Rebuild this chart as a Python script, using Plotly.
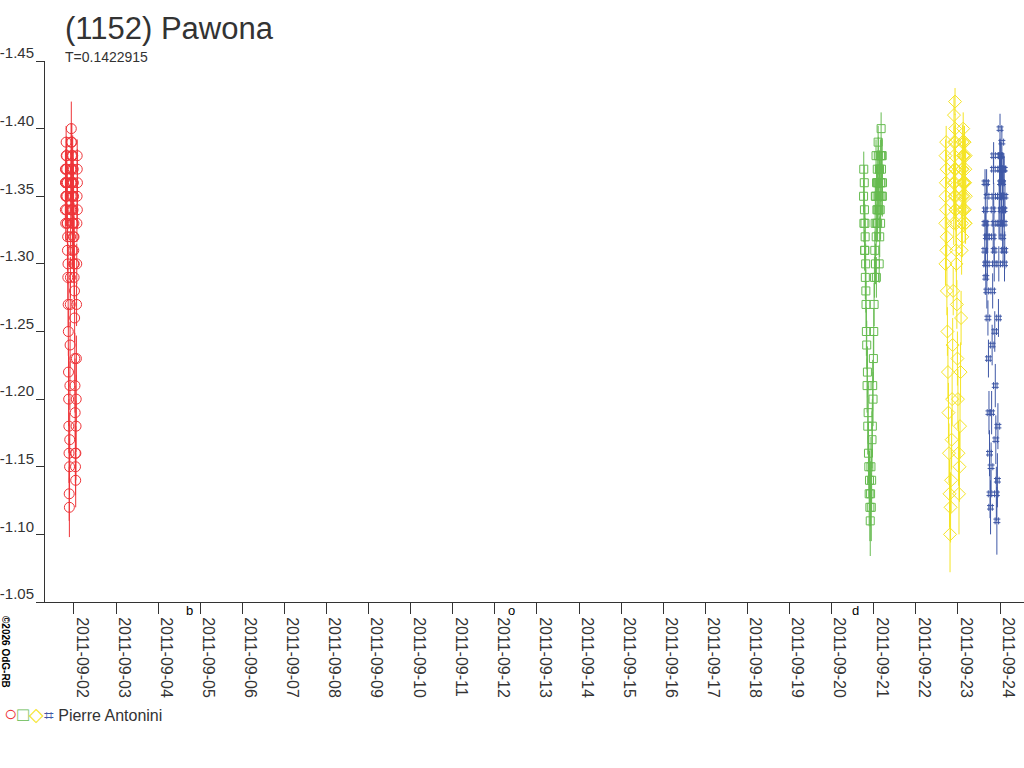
import pandas as pd
import plotly.graph_objects as go

# magnitudes, times as hours after each night's start
red_start = "2011-09-01 19:00"
red_hours = [0.1, 0.2, 0.3, 0.4, 0.5, 0.6, 0.7, 0.8, 0.9, 1.0,
             1.1, 1.2, 1.3, 1.4, 1.5, 1.6, 1.7, 1.8, 1.9, 2.0,
             2.1, 2.2, 2.3, 2.4, 2.5, 2.6, 2.7, 2.8, 2.9, 3.0,
             3.1, 3.2, 3.3, 3.4, 3.5, 3.6, 3.7, 3.8, 3.9, 4.0,
             4.1, 4.2, 4.3, 4.4, 4.5, 4.6, 4.7, 4.8, 4.9, 5.0,
             5.1, 5.2, 5.3, 5.4, 5.5, 5.6, 5.7, 5.8, 5.9, 6.0,
             6.1, 6.2, 6.3, 6.4, 6.5, 6.6, 6.7, 6.8, 6.9, 7.0,
             0.15, 0.45, 0.85, 1.25, 3.25, 3.45, 3.65, 3.85, 4.05, 4.25,
             4.45, 4.65, 4.85, 5.05, 6.85, 6.95, 0.25, 0.55, 3.55, 4.15]
red_mag = [-1.34, -1.36, -1.33, -1.37, -1.35, -1.38, -1.36, -1.34, -1.37, -1.35,
           -1.33, -1.36, -1.31, -1.32, -1.29, -1.30, -1.27, -1.25, -1.22, -1.20,
           -1.18, -1.16, -1.13, -1.12, -1.15, -1.17, -1.21, -1.24, -1.27, -1.29,
           -1.32, -1.34, -1.36, -1.35, -1.40, -1.38, -1.36, -1.39, -1.34, -1.37,
           -1.35, -1.33, -1.38, -1.36, -1.34, -1.37, -1.32, -1.35, -1.31, -1.33,
           -1.29, -1.30, -1.28, -1.26, -1.23, -1.21, -1.19, -1.16, -1.15, -1.14,
           -1.16, -1.18, -1.20, -1.23, -1.27, -1.30, -1.33, -1.35, -1.37, -1.36,
           -1.37, -1.35, -1.38, -1.33, -1.37, -1.39, -1.36, -1.34, -1.38, -1.35,
           -1.33, -1.36, -1.30, -1.32, -1.38, -1.34, -1.36, -1.39, -1.37, -1.31]
red_err = [0.012, 0.014, 0.013, 0.015, 0.012, 0.014, 0.013, 0.012, 0.015, 0.013,
           0.014, 0.012, 0.015, 0.014, 0.016, 0.015, 0.017, 0.018, 0.018, 0.020,
           0.020, 0.022, 0.020, 0.022, 0.021, 0.020, 0.018, 0.017, 0.016, 0.015,
           0.014, 0.013, 0.012, 0.014, 0.020, 0.013, 0.012, 0.014, 0.013, 0.012,
           0.014, 0.013, 0.015, 0.012, 0.014, 0.013, 0.015, 0.014, 0.016, 0.015,
           0.016, 0.015, 0.017, 0.018, 0.019, 0.020, 0.020, 0.022, 0.021, 0.020,
           0.020, 0.019, 0.018, 0.017, 0.016, 0.015, 0.014, 0.013, 0.015, 0.014,
           0.013, 0.012, 0.014, 0.013, 0.012, 0.014, 0.013, 0.012, 0.014, 0.013,
           0.012, 0.014, 0.013, 0.015, 0.012, 0.014, 0.013, 0.012, 0.015, 0.013]

green_start = "2011-09-20 18:00"
green_hours = [0.2, 0.4, 0.6, 0.8, 1.0, 1.2, 1.4, 1.6, 1.8, 2.0,
               2.2, 2.4, 2.6, 2.8, 3.0, 3.2, 3.4, 3.6, 3.8, 4.0,
               4.2, 4.4, 4.6, 4.8, 5.0, 5.2, 5.4, 5.6, 5.8, 6.0,
               6.2, 6.4, 6.6, 6.8, 7.0, 7.2, 7.4, 7.6, 7.8, 8.0,
               8.2, 8.4, 8.6, 8.8, 9.0, 9.2, 9.4, 9.6, 9.8, 10.0,
               10.2, 10.4, 10.6, 10.8, 11.0,
               0.3, 0.7, 1.1, 6.9, 7.3, 7.7, 8.1, 8.5, 8.9, 9.3,
               9.7, 10.1, 10.5, 10.9, 1.5, 0.9, 7.5, 8.3, 9.1, 9.9]
green_mag = [-1.35, -1.33, -1.36, -1.31, -1.33, -1.29, -1.30, -1.27, -1.25, -1.24,
             -1.21, -1.22, -1.18, -1.19, -1.16, -1.15, -1.13, -1.14, -1.12, -1.11,
             -1.13, -1.15, -1.12, -1.14, -1.17, -1.18, -1.21, -1.20, -1.23, -1.25,
             -1.27, -1.29, -1.31, -1.33, -1.30, -1.35, -1.32, -1.36, -1.34, -1.37,
             -1.33, -1.35, -1.38, -1.36, -1.34, -1.37, -1.32, -1.35, -1.38, -1.36,
             -1.40, -1.37, -1.35, -1.38, -1.36,
             -1.37, -1.34, -1.32, -1.35, -1.38, -1.33, -1.36, -1.39, -1.35, -1.37,
             -1.34, -1.36, -1.38, -1.35, -1.28, -1.31, -1.29, -1.34, -1.30, -1.33]
green_err = [0.012, 0.014, 0.013, 0.015, 0.014, 0.016, 0.015, 0.017, 0.018, 0.018,
             0.020, 0.019, 0.021, 0.020, 0.022, 0.023, 0.024, 0.022, 0.025, 0.026,
             0.024, 0.022, 0.025, 0.023, 0.021, 0.020, 0.019, 0.020, 0.018, 0.017,
             0.016, 0.015, 0.014, 0.013, 0.015, 0.012, 0.014, 0.013, 0.012, 0.014,
             0.013, 0.012, 0.014, 0.013, 0.012, 0.014, 0.015, 0.013, 0.012, 0.014,
             0.012, 0.013, 0.014, 0.012, 0.013,
             0.013, 0.012, 0.014, 0.013, 0.012, 0.014, 0.013, 0.012, 0.014, 0.013,
             0.012, 0.014, 0.013, 0.015, 0.016, 0.014, 0.015, 0.013, 0.014, 0.012]

yellow_start = "2011-09-22 16:30"
yellow_hours = [0.3, 0.45, 0.6, 0.75, 0.9, 1.05, 1.2, 1.5, 1.8, 2.1,
                2.4, 2.7, 3.0, 3.3, 3.6, 3.9, 4.2, 4.5, 4.8, 5.1,
                5.25, 5.4, 5.55, 5.7, 5.85, 6.0, 6.15, 6.3, 6.45, 6.6,
                6.9, 7.2, 7.5, 7.8, 8.1, 8.4, 8.7, 9.0, 9.3, 9.6,
                9.75, 9.9, 10.05, 10.2, 10.35, 10.5, 10.65, 10.8, 10.95, 11.1,
                11.25, 11.4, 11.55, 11.7, 11.85, 12.0,
                0.5, 0.8, 1.1, 5.0, 5.3, 5.6, 5.9, 6.2, 6.5, 9.8,
                10.1, 10.4, 10.7, 11.0, 11.3, 11.6, 11.9, 0.4, 6.0, 10.0]
yellow_mag = [-1.33, -1.38, -1.36, -1.34, -1.31, -1.37, -1.28, -1.25, -1.22, -1.19,
              -1.16, -1.13, -1.10, -1.12, -1.14, -1.17, -1.20, -1.24, -1.28, -1.33,
              -1.41, -1.38, -1.35, -1.36, -1.42, -1.39, -1.37, -1.34, -1.33, -1.30,
              -1.27, -1.23, -1.20, -1.16, -1.13, -1.15, -1.18, -1.22, -1.26, -1.31,
              -1.33, -1.35, -1.39, -1.37, -1.36, -1.40, -1.38, -1.36, -1.34, -1.38,
              -1.39, -1.34, -1.36, -1.37, -1.33, -1.35,
              -1.35, -1.39, -1.32, -1.36, -1.39, -1.37, -1.40, -1.35, -1.31, -1.37,
              -1.34, -1.38, -1.35, -1.39, -1.36, -1.33, -1.38, -1.30, -1.34, -1.32]
yellow_err = [0.015, 0.012, 0.014, 0.016, 0.015, 0.013, 0.018, 0.018, 0.020, 0.022,
              0.022, 0.025, 0.028, 0.026, 0.024, 0.022, 0.020, 0.020, 0.018, 0.016,
              0.014, 0.012, 0.015, 0.014, 0.010, 0.013, 0.015, 0.016, 0.014, 0.017,
              0.018, 0.020, 0.022, 0.024, 0.030, 0.026, 0.024, 0.022, 0.020, 0.018,
              0.015, 0.016, 0.013, 0.014, 0.015, 0.012, 0.014, 0.015, 0.016, 0.013,
              0.012, 0.016, 0.014, 0.013, 0.015, 0.014,
              0.014, 0.012, 0.015, 0.014, 0.012, 0.013, 0.011, 0.014, 0.016, 0.013,
              0.014, 0.012, 0.013, 0.012, 0.014, 0.015, 0.013, 0.016, 0.014, 0.015]

blue_start = "2011-09-23 15:00"
blue_hours = [0.3, 0.45, 0.6, 0.9, 1.05, 1.2, 1.5, 1.65, 1.8, 2.1,
              2.4, 2.7, 3.0, 3.3, 3.6, 3.9, 4.2, 4.5, 4.8, 5.1,
              5.25, 5.4, 5.55, 5.7, 6.0, 6.3, 6.6, 6.9, 7.2, 7.5,
              7.8, 8.1, 8.4, 8.55, 8.7, 8.85, 9.0, 9.3, 9.45, 9.6,
              9.9, 10.05, 10.2, 10.5, 10.65, 10.8, 11.1, 11.25, 11.4, 11.7,
              0.4, 0.75, 1.35, 1.95, 5.0, 5.35, 5.65, 8.3, 8.65, 8.95,
              9.2, 9.55, 9.85, 10.15, 10.45, 10.75, 11.05, 11.35, 11.55, 11.8]
blue_mag = [-1.31, -1.36, -1.34, -1.29, -1.33, -1.32, -1.28, -1.35, -1.30, -1.26,
            -1.23, -1.19, -1.16, -1.13, -1.12, -1.15, -1.19, -1.24, -1.28, -1.32,
            -1.37, -1.35, -1.33, -1.30, -1.25, -1.21, -1.17, -1.13, -1.11, -1.14,
            -1.18, -1.26, -1.33, -1.35, -1.37, -1.38, -1.40, -1.36, -1.37, -1.38,
            -1.34, -1.39, -1.36, -1.32, -1.37, -1.35, -1.37, -1.34, -1.33, -1.31,
            -1.33, -1.30, -1.36, -1.32, -1.34, -1.38, -1.31, -1.30, -1.35, -1.33,
            -1.38, -1.34, -1.37, -1.33, -1.36, -1.31, -1.34, -1.37, -1.30, -1.35]
blue_err = [0.012, 0.010, 0.011, 0.013, 0.012, 0.011, 0.013, 0.010, 0.012, 0.013,
            0.014, 0.016, 0.017, 0.018, 0.020, 0.018, 0.016, 0.015, 0.013, 0.012,
            0.011, 0.010, 0.012, 0.013, 0.015, 0.016, 0.018, 0.020, 0.025, 0.020,
            0.017, 0.014, 0.012, 0.011, 0.010, 0.012, 0.011, 0.013, 0.012, 0.010,
            0.012, 0.011, 0.013, 0.012, 0.010, 0.012, 0.011, 0.013, 0.012, 0.014,
            0.011, 0.012, 0.010, 0.012, 0.011, 0.010, 0.012, 0.013, 0.011, 0.012,
            0.010, 0.012, 0.011, 0.013, 0.012, 0.011, 0.012, 0.010, 0.013, 0.012]

tick_dates = ["2011-09-%02d" % d for d in range(2, 25)]
y_ticks = [-1.45, -1.40, -1.35, -1.30, -1.25, -1.20, -1.15, -1.10, -1.05]
y_labels = ["-1.45", "-1.40", "-1.35", "-1.30", "-1.25", "-1.20", "-1.15", "-1.10", "-1.05"]

moon_dates = ["2011-09-04 17:39", "2011-09-12 09:27", "2011-09-20 13:39"]
moon_marks = ["b", "o", "d"]

series = [
    (red_start, red_hours, red_mag, red_err, "#ee3438", "circle-open", 10),
    (green_start, green_hours, green_mag, green_err, "#66bb50", "square-open", 8),
    (yellow_start, yellow_hours, yellow_mag, yellow_err, "#f5e424", "diamond-open", 10),
    (blue_start, blue_hours, blue_mag, blue_err, "#3f58a6", "hash-open", 7),
]

fig = go.Figure()
for start, hours, mag, err, color, symbol, size in series:
    t = pd.Timestamp(start) + pd.to_timedelta(hours, unit="h")
    fig.add_trace(go.Scatter(
        x=t, y=mag, mode="markers",
        marker=dict(symbol=symbol, size=size, color=color, line=dict(width=1, color=color)),
        error_y=dict(type="data", array=err, visible=True, color=color, thickness=1, width=0),
        showlegend=False,
    ))


def py(px):
    # pixel row -> paper y (plot area is rows 61..602)
    return (602 - px) / 541


def pxx(px):
    # pixel column -> paper x (plot area is columns 45..1024)
    return (px - 45) / 979


fig.update_layout(
    width=1024, height=768,
    margin=dict(l=45, r=0, t=61, b=166),
    plot_bgcolor="white", paper_bgcolor="white",
    font=dict(family="Liberation Sans, Arial, sans-serif", color="#333333"),
    xaxis=dict(
        type="date",
        range=["2011-09-01 07:30", "2011-09-24 13:40"],
        tickvals=tick_dates, ticktext=tick_dates,
        tickangle=90, ticks="outside", ticklen=11, tickcolor="#333333",
        ticklabelshift=8, automargin=False,
        showline=True, linecolor="#333333", showgrid=False, zeroline=False,
        tickfont=dict(size=16),
    ),
    yaxis=dict(
        range=[-1.05, -1.45],
        tickvals=y_ticks, ticktext=y_labels,
        ticks="outside", ticklen=8, tickcolor="#333333",
        ticklabelshift=8, ticklabelstandoff=-1, automargin=False,
        showline=True, linecolor="#333333", showgrid=False, zeroline=False,
        tickfont=dict(size=15),
    ),
)

ann = [
    dict(text="(1152) Pawona", x=pxx(63), y=py(29), font=dict(size=31)),
    dict(text="T=0.1422915", x=pxx(63), y=py(57), font=dict(size=14)),
    dict(text="<span style='color:#ee3438;font-size:22px'>○</span>"
              "<span style='color:#66bb50;font-size:19px'>□</span>"
              "<span style='color:#f5e424;font-size:19px'>◇</span>"
              "<span style='color:#3f58a6;font-size:17px'>⌗</span>"
              " Pierre Antonini",
         x=pxx(2), y=py(713), font=dict(size=16)),
]
for a in ann:
    fig.add_annotation(xref="paper", yref="paper", xanchor="left", yanchor="middle",
                       showarrow=False, **a)

fig.add_annotation(text="<b>©2026 OdG-RB</b>", xref="paper", yref="paper",
                   x=pxx(6), y=py(652), xanchor="center", yanchor="middle",
                   textangle=90, showarrow=False,
                   font=dict(size=10, color="#000000"))

# moon phase marks sit just under the time axis
for d, m in zip(moon_dates, moon_marks):
    fig.add_annotation(text=m, x=d, xref="x", yref="paper", y=py(602),
                       xanchor="center", yanchor="top", borderpad=0,
                       showarrow=False, font=dict(size=13, color="#000000"))

# the page's default 8px body margin would push the figure off its pixel grid
fig.write_html("out.html", config={"displayModeBar": False},
               post_script="document.body.style.margin='0';")
